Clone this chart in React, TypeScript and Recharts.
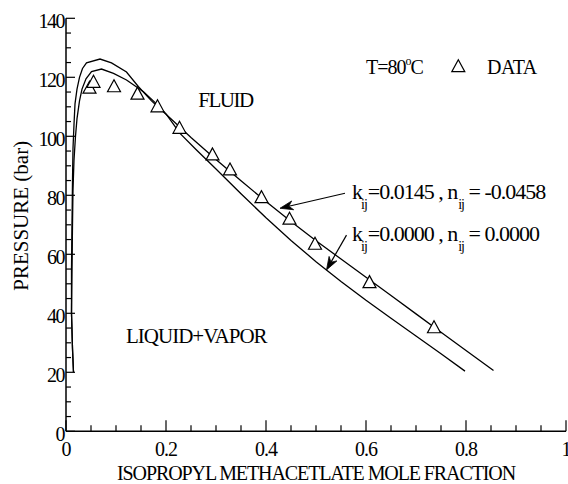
import React from 'react';
import { ComposedChart, Line, Scatter, XAxis, YAxis, ReferenceDot, ReferenceLine } from 'recharts';

const FONT = '"Liberation Serif", "Times New Roman", Times, serif';

// Experimental data (T = 80 C)
const dataX = [0.047, 0.055, 0.096, 0.143, 0.183, 0.227, 0.293, 0.328, 0.391, 0.447, 0.498, 0.607, 0.736];
const dataP = [116.3, 118.3, 116.8, 114.3, 110.0, 102.7, 93.7, 88.6, 79.2, 71.9, 63.4, 50.4, 35.1];

// Calculated curve kij = 0.0145, nij = -0.0458
const fitX = [0.015, 0.013, 0.011, 0.011, 0.012, 0.013, 0.014, 0.016, 0.018, 0.022, 0.027, 0.033, 0.041, 0.068, 0.091, 0.121, 0.145, 0.171, 0.2, 0.25, 0.3, 0.35, 0.4, 0.45, 0.5, 0.55, 0.6, 0.65, 0.7, 0.75, 0.8, 0.855];
const fitP = [20, 28, 40, 55, 70, 85, 96, 104, 111, 116, 120, 123, 124.9, 126.2, 124.9, 121.8, 116.8, 112.0, 107.5, 99.6, 92.1, 84.9, 77.9, 71.1, 64.6, 58.4, 52.2, 46.0, 39.8, 33.6, 27.4, 20.6];

// Calculated curve kij = 0, nij = 0
const zeroX = [0.015, 0.013, 0.011, 0.012, 0.013, 0.014, 0.016, 0.019, 0.022, 0.027, 0.032, 0.04, 0.051, 0.071, 0.095, 0.121, 0.155, 0.181, 0.2, 0.228, 0.26, 0.3, 0.35, 0.4, 0.45, 0.5, 0.55, 0.6, 0.65, 0.7, 0.75, 0.798];
const zeroP = [20, 28, 40, 55, 70, 82, 92, 100, 106, 112, 116, 119.5, 121.9, 122.8, 121.3, 119.1, 115.1, 111.0, 107.6, 101.0, 95.5, 88.9, 80.5, 72.4, 64.7, 57.5, 50.8, 44.4, 38.3, 32.3, 26.3, 20.4];

const xTicks = [0, 0.05, 0.1, 0.15, 0.2, 0.25, 0.3, 0.35, 0.4, 0.45, 0.5, 0.55, 0.6, 0.65, 0.7, 0.75, 0.8, 0.85, 0.9, 0.95, 1];
const xMajor = [0, 0.2, 0.4, 0.6, 0.8, 1];
const xMajorLabels = ['0', '0.2', '0.4', '0.6', '0.8', '1'];
const yTicks = [0, 5, 10, 15, 20, 25, 30, 35, 40, 45, 50, 55, 60, 65, 70, 75, 80, 85, 90, 95, 100, 105, 110, 115, 120, 125, 130, 135, 140];
const yMajor = [0, 20, 40, 60, 80, 100, 120, 140];
const yMajorLabels = ['0', '20', '40', '60', '80', '100', '120', '140'];

const dataPts = dataX.map((x, i) => ({ x, y: dataP[i] }));
const fitPts = fitX.map((x, i) => ({ x, y: fitP[i] }));
const zeroPts = zeroX.map((x, i) => ({ x, y: zeroP[i] }));

const majorIndex = (v: number, majors: number[]) => majors.findIndex((m) => Math.abs(m - v) < 1e-6);

const BottomTick = (p: any) => {
  const idx = majorIndex(p.payload.value, xMajor);
  return (
    <g>
      <line x1={p.x} y1={p.y} x2={p.x} y2={p.y - (idx >= 0 ? 11 : 6)} stroke="#000" strokeWidth={1.2} />
      {idx >= 0 && (
        <text x={p.x} y={p.y + 25} textAnchor="middle" fontFamily={FONT} fontSize={20} letterSpacing={-1} fill="#000">
          {xMajorLabels[idx]}
        </text>
      )}
    </g>
  );
};
const TopTick = (p: any) => {
  const idx = majorIndex(p.payload.value, xMajor);
  return <line x1={p.x} y1={p.y} x2={p.x} y2={p.y + (idx >= 0 ? 11 : 6)} stroke="#000" strokeWidth={1.2} />;
};
const LeftTick = (p: any) => {
  const idx = majorIndex(p.payload.value, yMajor);
  return (
    <g>
      <line x1={p.x} y1={p.y} x2={p.x + (idx >= 0 ? 9 : 5)} y2={p.y} stroke="#000" strokeWidth={1.2} />
      {idx >= 0 && (
        <text x={p.x - 2} y={p.y + 10} textAnchor="end" fontFamily={FONT} fontSize={20} letterSpacing={-1.5} fill="#000">
          {yMajorLabels[idx]}
        </text>
      )}
    </g>
  );
};
const RightTick = (p: any) => {
  const idx = majorIndex(p.payload.value, yMajor);
  return <line x1={p.x} y1={p.y} x2={p.x - (idx >= 0 ? 9 : 5)} y2={p.y} stroke="#000" strokeWidth={1.2} />;
};

const Triangle = (p: any) => (
  <polygon
    points={`${p.cx},${p.cy - 7} ${p.cx - 6.5},${p.cy + 5} ${p.cx + 6.5},${p.cy + 5}`}
    fill="#fff"
    stroke="#000"
    strokeWidth={1.2}
  />
);

const Arrow = (p: any) => {
  const { x1, y1, x2, y2 } = p;
  const dx = x2 - x1;
  const dy = y2 - y1;
  const len = Math.sqrt(dx * dx + dy * dy) || 1;
  const ux = dx / len;
  const uy = dy / len;
  const nx = -uy;
  const ny = ux;
  const hl = 13;
  const hw = 4.5;
  const bx = x2 - ux * hl;
  const by = y2 - uy * hl;
  const notchX = x2 - ux * 9;
  const notchY = y2 - uy * 9;
  return (
    <g>
      <line x1={x1} y1={y1} x2={notchX} y2={notchY} stroke="#000" strokeWidth={1.2} />
      <polygon
        points={`${x2},${y2} ${bx + nx * hw},${by + ny * hw} ${notchX},${notchY} ${bx - nx * hw},${by - ny * hw}`}
        fill="#000"
        stroke="#000"
        strokeWidth={0.8}
      />
    </g>
  );
};

const textStyle = { fontFamily: FONT, fill: '#000' };

const XTitle = (p: any) => {
  const vb = p.viewBox;
  return (
    <text x={vb.x + vb.width / 2} y={vb.y + 48.7} textAnchor="middle" fontSize={20} letterSpacing={-1.1} {...textStyle}>
      ISOPROPYL METHACETLATE MOLE FRACTION
    </text>
  );
};
const YTitle = (p: any) => {
  const vb = p.viewBox;
  const cx = vb.x + 28;
  const cy = vb.y + vb.height / 2 - 9;
  return (
    <text x={cx} y={cy} textAnchor="middle" fontSize={21} transform={`rotate(-90, ${cx}, ${cy})`} {...textStyle}>
      PRESSURE (bar)
    </text>
  );
};

const KLabel = (p: any, k: string, n: string) => (
  <text x={p.cx} y={p.cy} fontSize={22} letterSpacing={-1} {...textStyle}>
    <tspan>k</tspan>
    <tspan fontSize={14} dx={-1} dy={10}>ij</tspan>
    <tspan dx={1} dy={-10}>{`=${k} , n`}</tspan>
    <tspan fontSize={14} dx={1} dy={10}>ij</tspan>
    <tspan dy={-10}>{` = ${n}`}</tspan>
  </text>
);

export default function App() {
  return (
    <div style={{ position: 'absolute', left: 0, top: 0, width: 568, height: 484, background: '#fff' }}>
      <ComposedChart width={568} height={484} margin={{ top: 18.3, right: 2, bottom: 0, left: 0 }}>
        <XAxis
          xAxisId="b"
          type="number"
          dataKey="x"
          domain={[0, 1]}
          ticks={xTicks}
          interval={0}
          orientation="bottom"
          height={52.7}
          allowDataOverflow
          axisLine={{ stroke: '#000', strokeWidth: 1.5 }}
          tickLine={false}
          tickSize={0}
          tickMargin={0}
          tick={(p: any) => <BottomTick {...p} />}
          label={(p: any) => <XTitle {...p} />}
        />
        <XAxis
          xAxisId="t"
          type="number"
          dataKey="x"
          domain={[0, 1]}
          ticks={xTicks}
          interval={0}
          orientation="top"
          height={0}
          allowDataOverflow
          axisLine={{ stroke: '#000', strokeWidth: 1.5 }}
          tickLine={false}
          tickSize={0}
          tickMargin={0}
          tick={(p: any) => <TopTick {...p} />}
        />
        <YAxis
          yAxisId="l"
          type="number"
          domain={[0, 140]}
          ticks={yTicks}
          interval={0}
          width={66}
          allowDataOverflow
          axisLine={{ stroke: '#000', strokeWidth: 1.5 }}
          tickLine={false}
          tickSize={0}
          tickMargin={0}
          tick={(p: any) => <LeftTick {...p} />}
          label={(p: any) => <YTitle {...p} />}
        />
        <YAxis
          yAxisId="r"
          type="number"
          orientation="right"
          domain={[0, 140]}
          ticks={yTicks}
          interval={0}
          width={0}
          allowDataOverflow
          axisLine={{ stroke: '#000', strokeWidth: 1.5 }}
          tickLine={false}
          tickSize={0}
          tickMargin={0}
          tick={(p: any) => <RightTick {...p} />}
        />
        <Line xAxisId="b" yAxisId="l" data={fitPts} dataKey="y" type="linear" stroke="#000" strokeWidth={1.3} dot={false} isAnimationActive={false} />
        <Line xAxisId="b" yAxisId="l" data={zeroPts} dataKey="y" type="linear" stroke="#000" strokeWidth={1.3} dot={false} isAnimationActive={false} />
        <Scatter xAxisId="b" yAxisId="l" data={dataPts} dataKey="y" shape={(p: any) => <Triangle {...p} />} isAnimationActive={false} />

        <ReferenceLine xAxisId="b" yAxisId="l" segment={[{ x: 0.558, y: 80.7 }, { x: 0.428, y: 75.6 }]} shape={(p: any) => <Arrow {...p} />} />
        <ReferenceLine xAxisId="b" yAxisId="l" segment={[{ x: 0.561, y: 66.5 }, { x: 0.521, y: 54.7 }]} shape={(p: any) => <Arrow {...p} />} />

        <ReferenceDot xAxisId="b" yAxisId="l" x={0.2646} y={110} r={0} ifOverflow="visible"
          shape={(p: any) => <text x={p.cx} y={p.cy} fontSize={21} letterSpacing={-1.5} {...textStyle}>FLUID</text>} />
        <ReferenceDot xAxisId="b" yAxisId="l" x={0.12} y={29.9} r={0} ifOverflow="visible"
          shape={(p: any) => <text x={p.cx} y={p.cy} fontSize={21} letterSpacing={-1} {...textStyle}>LIQUID+VAPOR</text>} />
        <ReferenceDot xAxisId="b" yAxisId="l" x={0.6} y={121.1} r={0} ifOverflow="visible"
          shape={(p: any) => (
            <text x={p.cx} y={p.cy} fontSize={20} letterSpacing={-1} {...textStyle}>
              <tspan>T=80</tspan>
              <tspan fontSize={12} dy={-9}>o</tspan>
              <tspan dy={9}>C</tspan>
            </text>
          )} />
        <ReferenceDot xAxisId="b" yAxisId="l" x={0.7846} y={123.6} r={0} ifOverflow="visible"
          shape={(p: any) => <Triangle cx={p.cx} cy={p.cy} />} />
        <ReferenceDot xAxisId="b" yAxisId="l" x={0.842} y={121.1} r={0} ifOverflow="visible"
          shape={(p: any) => <text x={p.cx} y={p.cy} fontSize={20} letterSpacing={-0.5} {...textStyle}>DATA</text>} />
        <ReferenceDot xAxisId="b" yAxisId="l" x={0.572} y={78.9} r={0} ifOverflow="visible"
          shape={(p: any) => KLabel(p, '0.0145', '-0.0458')} />
        <ReferenceDot xAxisId="b" yAxisId="l" x={0.572} y={64.5} r={0} ifOverflow="visible"
          shape={(p: any) => KLabel(p, '0.0000', '0.0000')} />
      </ComposedChart>
    </div>
  );
}
